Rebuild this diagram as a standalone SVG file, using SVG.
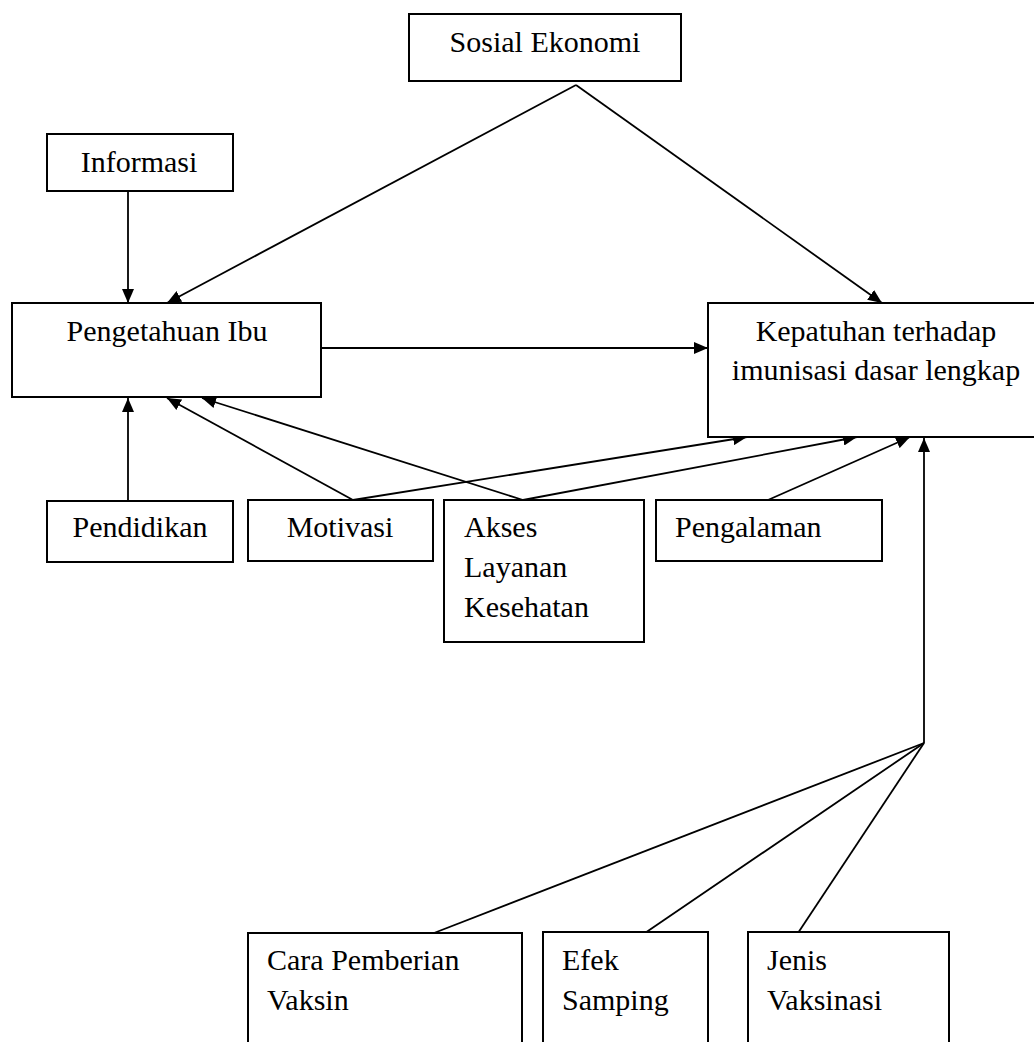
<svg xmlns="http://www.w3.org/2000/svg" width="1034" height="1042" viewBox="0 0 1034 1042">
<style>
.box{fill:#fff;stroke:#000;stroke-width:2}
.t{font-family:"Liberation Serif","Times New Roman",serif;font-size:30px;fill:#000}
.c{text-anchor:middle}
.ln{fill:none;stroke:#000;stroke-width:1.8}
</style>
<defs>
<marker id="ah" markerUnits="userSpaceOnUse" markerWidth="14" markerHeight="12" refX="14" refY="6" orient="auto" viewBox="0 0 14 12">
<path d="M0,0 L14,6 L0,12 z" fill="#000"/>
</marker>
</defs>
<rect width="1034" height="1042" fill="#fff"/>
<g id="connectors">
<line class="ln" x1="576" y1="85" x2="167" y2="303" marker-end="url(#ah)"/>
<line class="ln" x1="576" y1="85" x2="882" y2="303" marker-end="url(#ah)"/>
<line class="ln" x1="128" y1="191" x2="128" y2="303" marker-end="url(#ah)"/>
<line class="ln" x1="321" y1="348" x2="708" y2="348" marker-end="url(#ah)"/>
<line class="ln" x1="128" y1="501" x2="128" y2="398" marker-end="url(#ah)"/>
<line class="ln" x1="353" y1="500" x2="167" y2="398" marker-end="url(#ah)"/>
<line class="ln" x1="353" y1="500" x2="747" y2="437" marker-end="url(#ah)"/>
<line class="ln" x1="523" y1="500" x2="202" y2="398" marker-end="url(#ah)"/>
<line class="ln" x1="523" y1="500" x2="857" y2="437" marker-end="url(#ah)"/>
<line class="ln" x1="768" y1="500" x2="910" y2="437" marker-end="url(#ah)"/>
<line class="ln" x1="924" y1="743" x2="924" y2="438" marker-end="url(#ah)"/>
<line class="ln" x1="924" y1="743" x2="434" y2="933"/>
<line class="ln" x1="924" y1="743" x2="645" y2="933"/>
<line class="ln" x1="924" y1="743" x2="798" y2="933"/>
</g>
<g id="sosial">
<rect class="box" x="409" y="14" width="272" height="67"/>
<text class="t c" x="545" y="52">Sosial Ekonomi</text>
</g>
<g id="informasi">
<rect class="box" x="47" y="134" width="186" height="57"/>
<text class="t c" x="139" y="172">Informasi</text>
</g>
<g id="pengetahuan">
<rect class="box" x="12" y="303" width="309" height="94"/>
<text class="t c" x="167" y="341">Pengetahuan Ibu</text>
</g>
<g id="kepatuhan">
<rect class="box" x="708" y="303" width="340" height="134"/>
<text class="t c" x="876" y="341">Kepatuhan terhadap</text>
<text class="t c" x="876" y="380">imunisasi dasar lengkap</text>
</g>
<g id="pendidikan">
<rect class="box" x="47" y="501" width="186" height="61"/>
<text class="t c" x="140" y="537">Pendidikan</text>
</g>
<g id="motivasi">
<rect class="box" x="248" y="500" width="185" height="61"/>
<text class="t c" x="340" y="537">Motivasi</text>
</g>
<g id="akses">
<rect class="box" x="444" y="500" width="200" height="142"/>
<text class="t" x="464" y="537">Akses</text>
<text class="t" x="464" y="577">Layanan</text>
<text class="t" x="464" y="617">Kesehatan</text>
</g>
<g id="pengalaman">
<rect class="box" x="656" y="500" width="226" height="61"/>
<text class="t" x="675" y="537">Pengalaman</text>
</g>
<g id="cara">
<rect class="box" x="248" y="933" width="274" height="130"/>
<text class="t" x="267" y="970">Cara Pemberian</text>
<text class="t" x="267" y="1010">Vaksin</text>
</g>
<g id="efek">
<rect class="box" x="543" y="932" width="165" height="130"/>
<text class="t" x="562" y="970">Efek</text>
<text class="t" x="562" y="1010">Samping</text>
</g>
<g id="jenis">
<rect class="box" x="748" y="932" width="201" height="130"/>
<text class="t" x="767" y="970">Jenis</text>
<text class="t" x="767" y="1010">Vaksinasi</text>
</g>
</svg>
